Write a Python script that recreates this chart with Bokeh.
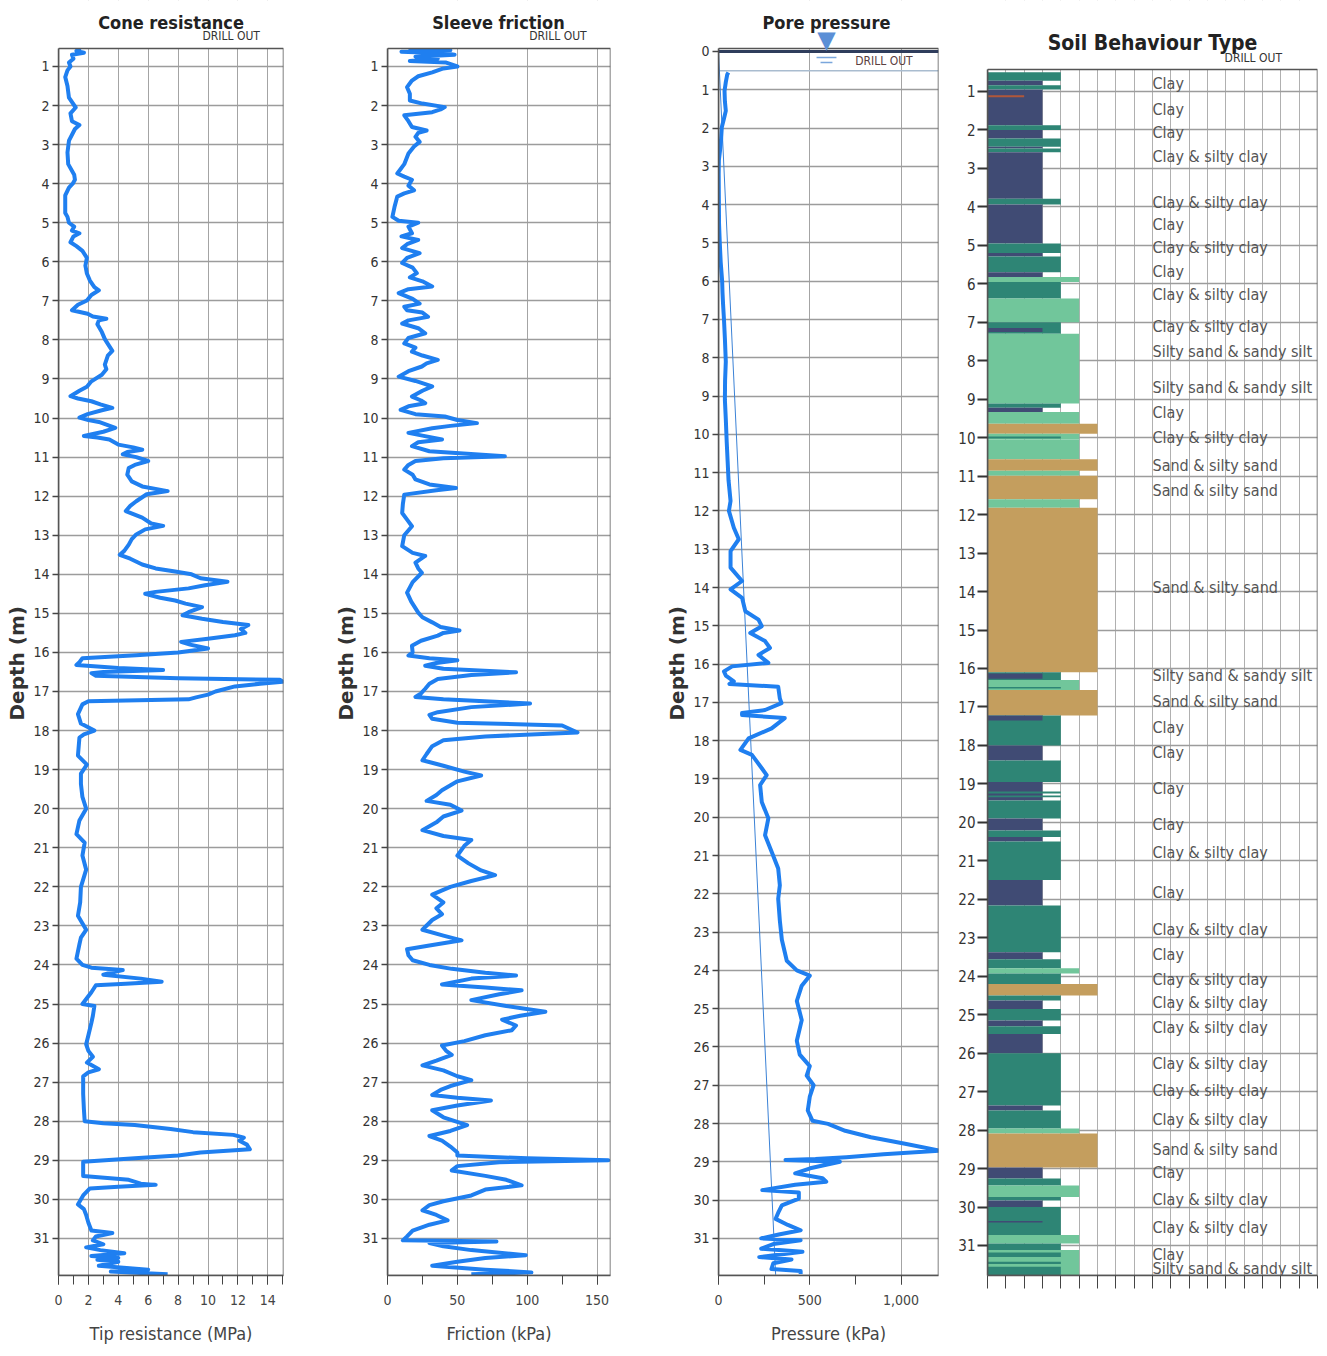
import math
from bokeh.plotting import figure
from bokeh.models import (Range1d, SingleIntervalTicker, FixedTicker, Label, Title,
                          NumeralTickFormatter, CustomJSTickFormatter)
from bokeh.layouts import row
from bokeh.embed import file_html
from bokeh.resources import INLINE

# ---------------- data ----------------
qc_points = [(0.55,1.5),(0.6,1.2),(0.65,1.7),(0.7,0.9),(0.8,1.0),(0.9,0.7),(1.0,0.8),(1.1,0.6),(1.27,0.45),(1.5,0.6),
 (1.8,0.7),(2.05,1.15),(2.2,0.8),(2.4,0.9),(2.5,1.4),(2.6,1.1),(2.9,0.7),(3.2,0.6),(3.5,0.65),(3.77,1.05),(3.9,1.1),
 (4.0,0.95),(4.1,0.7),(4.3,0.45),(4.75,0.45),(4.85,0.6),(5.0,0.7),(5.1,1.05),(5.2,0.9),(5.27,1.4),(5.35,1.0),(5.5,0.8),
 (5.6,1.2),(5.72,1.6),(5.9,1.9),(6.1,1.8),(6.3,1.9),(6.48,2.1),(6.65,2.4),(6.73,2.7),(6.85,2.2),(6.99,1.9),(7.1,1.3),
 (7.24,0.9),(7.33,1.95),(7.4,2.3),(7.46,3.2),(7.5,2.7),(7.6,2.6),(7.8,2.9),(7.98,3.1),(8.1,3.3),(8.28,3.6),(8.4,3.3),
 (8.63,3.1),(8.75,3.2),(8.89,2.9),(9.06,2.2),(9.2,1.9),(9.3,1.4),(9.44,0.8),(9.5,1.3),(9.57,2.2),(9.65,2.8),(9.74,3.6),
 (9.8,2.9),(9.9,1.95),(9.99,1.4),(10.05,2.0),(10.1,2.7),(10.25,3.8),(10.35,3.0),(10.46,1.7),(10.5,2.6),(10.55,3.4),
 (10.68,4.0),(10.75,5.0),(10.81,5.6),(10.87,4.6),(10.93,4.3),(11.0,5.2),(11.1,6.0),(11.2,5.1),(11.28,4.7),(11.45,4.6),
 (11.62,4.9),(11.75,5.6),(11.87,7.3),(11.95,5.9),(12.13,5.2),(12.25,4.8),(12.38,4.5),(12.55,5.6),(12.7,6.2),(12.76,7.0),
 (12.85,5.8),(12.98,5.2),(13.1,4.9),(13.24,4.7),(13.4,4.4),(13.5,4.1),(13.6,4.8),(13.75,5.6),(13.85,6.5),(13.93,7.8),
 (14.0,8.9),(14.1,9.5),(14.19,11.3),(14.28,9.8),(14.36,8.7),(14.45,6.5),(14.5,5.8),(14.6,6.8),(14.67,7.8),(14.75,8.5),
 (14.84,9.6),(14.97,8.7),(15.05,8.3),(15.14,9.6),(15.22,11.0),(15.3,12.7),(15.4,12.2),(15.5,12.5),(15.56,11.8),
 (15.65,10.0),(15.73,8.2),(15.8,8.8),(15.9,10.0),(16.0,8.0),(16.07,5.2),(16.15,1.6),(16.25,1.4),(16.32,1.2),(16.4,4.0),
 (16.45,7.0),(16.5,3.0),(16.53,2.2),(16.6,2.5),(16.66,8.0),(16.7,14.8),(16.75,15.0),(16.8,13.5),(16.87,11.8),(17.0,10.5),
 (17.08,10.0),(17.15,9.2),(17.2,8.7),(17.25,2.0),(17.33,1.6),(17.58,1.3),(17.82,1.5),(18.0,2.4),(18.1,1.7),(18.18,1.4),
 (18.64,1.3),(18.87,1.9),(19.1,1.5),(19.37,1.5),(19.7,1.6),(20.0,1.85),(20.3,1.4),(20.65,1.2),(20.87,1.75),(21.2,1.6),
 (21.56,1.85),(22.0,1.5),(22.4,1.45),(22.74,1.3),(23.1,1.85),(23.3,1.5),(23.47,1.4),(23.84,1.2),(24.0,1.6),(24.07,2.2),
 (24.13,4.3),(24.2,3.5),(24.25,3.0),(24.35,5.5),(24.43,6.9),(24.48,4.5),(24.52,2.5),(24.7,2.2),(25.0,1.6),(25.05,2.4),
 (25.3,2.3),(25.48,2.2),(25.8,2.0),(26.03,1.85),(26.2,2.0),(26.35,2.3),(26.5,1.9),(26.67,2.7),(26.75,2.0),(26.85,1.65),
 (27.3,1.65),(27.7,1.7),(28.0,1.75),(28.05,3.0),(28.1,5.1),(28.2,7.5),(28.28,9.0),(28.35,11.7),(28.42,12.4),(28.5,12.1),
 (28.6,12.6),(28.72,12.8),(28.8,9.5),(28.88,8.0),(28.95,5.1),(29.04,1.65),(29.4,1.65),(29.5,4.7),(29.6,5.5),(29.63,6.5),
 (29.68,4.0),(29.72,2.1),(29.9,1.65),(30.13,1.3),(30.25,1.7),(30.4,1.85),(30.6,2.0),(30.8,2.2),(30.86,3.6),(30.95,2.5),
 (31.05,2.3),(31.15,3.0),(31.23,1.85),(31.3,2.8),(31.38,4.4),(31.45,2.2),(31.5,4.0),(31.55,2.6),(31.6,4.0),(31.7,2.7),
 (31.8,6.0),(31.85,3.5),(31.92,7.3)]

fs_points = [(0.55,15),(0.58,45),(0.62,10),(0.66,40),(0.7,48),(0.75,20),(0.8,36),(0.86,16),(0.9,42),(1.0,50),(1.05,40),
 (1.15,32),(1.25,22),(1.36,17.5),(1.53,14),(1.7,16),(1.87,16),(1.95,25),(2.04,41),(2.1,38),(2.17,32),(2.25,12),(2.4,15),
 (2.55,17.5),(2.64,28),(2.7,22),(2.8,20),(2.93,23),(3.05,19),(3.23,15),(3.5,12),(3.74,7),(3.82,12),(3.9,17.5),(4.05,15),
 (4.17,19),(4.25,12),(4.33,7),(4.6,5),(4.85,3.5),(4.95,8),(5.0,22),(5.1,15),(5.27,17.5),(5.35,10),(5.44,22),(5.55,14),
 (5.65,10.5),(5.78,23),(5.9,14),(6.03,10.5),(6.15,18),(6.29,21),(6.4,16),(6.5,25),(6.63,32),(6.7,15),(6.8,8),(6.95,18),
 (7.07,23),(7.15,12),(7.24,14),(7.3,25),(7.41,29),(7.5,15),(7.58,10.5),(7.7,22),(7.83,27),(7.95,15),(8.09,12),(8.2,20),
 (8.3,17.5),(8.4,25),(8.51,36),(8.6,28),(8.68,24.6),(8.8,15),(8.94,8),(9.05,20),(9.19,32),(9.3,25),(9.45,17.5),(9.55,24),
 (9.62,27),(9.7,15),(9.79,9.4),(9.9,20),(9.96,41),(10.05,50),(10.13,64),(10.2,45),(10.26,32),(10.38,15),(10.45,25),
 (10.55,39),(10.62,22),(10.72,17.5),(10.85,30),(10.98,84),(11.03,40),(11.1,20),(11.2,15),(11.32,12),(11.45,18),(11.57,20),
 (11.7,30),(11.79,49),(11.85,35),(11.96,12),(12.2,11),(12.43,10.5),(12.6,14),(12.77,17.5),(13.0,12),(13.28,10.5),
 (13.45,18),(13.53,27),(13.7,20),(13.85,22),(13.96,24.6),(14.2,18),(14.47,14),(14.7,17),(14.98,22),(15.1,25),(15.23,32),
 (15.35,38),(15.44,51.5),(15.5,40),(15.57,36),(15.7,24),(15.83,17.5),(16.0,18),(16.08,15),(16.15,30),(16.2,50),(16.27,35),
 (16.34,27),(16.42,40),(16.51,92),(16.58,60),(16.68,36),(16.8,30),(16.93,27),(17.05,24),(17.14,20),(17.2,40),(17.31,102),
 (17.4,60),(17.53,36),(17.6,30),(17.7,32),(17.8,50),(17.87,125),(18.05,136),(18.15,70),(18.25,40),(18.4,32),(18.6,28),
 (18.76,25),(18.9,40),(19.05,55),(19.15,67),(19.3,50),(19.53,39),(19.65,35),(19.8,28),(19.9,45),(20.05,53),(20.2,40),
 (20.35,35),(20.55,25),(20.7,40),(20.8,60),(20.95,55),(21.2,50),(21.4,58),(21.58,67),(21.7,77),(21.85,60),(22.0,45),
 (22.2,32),(22.4,40),(22.55,35),(22.7,39),(22.85,32),(23.1,25),(23.25,40),(23.37,53),(23.5,30),(23.6,14),(23.75,15),
 (23.88,18),(24.0,30),(24.1,46),(24.2,70),(24.27,92),(24.35,60),(24.5,39),(24.58,70),(24.65,96),(24.75,80),(24.9,60),
 (25.05,85),(25.2,113),(25.3,95),(25.4,82),(25.55,92),(25.67,89),(25.8,70),(25.95,55),(26.06,39),(26.2,42),(26.3,46),
 (26.45,35),(26.57,25),(26.7,40),(26.85,50),(26.95,60),(27.1,45),(27.2,38),(27.33,32),(27.4,50),(27.47,74),(27.6,50),
 (27.72,32),(27.9,40),(28.1,57),(28.25,45),(28.38,30),(28.5,39),(28.65,45),(28.8,50),(28.88,50),(28.95,100),(29.0,158),
 (29.05,80),(29.15,50),(29.26,46),(29.4,70),(29.5,85),(29.64,96),(29.75,70),(29.9,60),(30.05,40),(30.15,30),(30.28,25),
 (30.4,35),(30.54,43),(30.65,30),(30.8,18),(30.95,14),(31.05,11),(31.08,78),(31.12,30),(31.2,40),(31.3,60),(31.43,99),
 (31.5,70),(31.6,50),(31.7,32),(31.8,70),(31.87,103),(31.92,60)]

u2_points = [(0.55,54),(0.6,48),(0.8,40),(1.03,33),(1.3,35),(1.55,40),(1.75,30),(1.98,18),(2.3,14),(2.6,8),(2.84,2),
 (3.2,1),(3.87,2),(4.5,3),(5.0,7),(5.5,12),(6.0,20),(6.3,22),(6.6,25),(7.0,30),(7.5,35),(8.1,40),(8.6,36),(9.1,35),
 (9.6,40),(10.2,45),(10.7,50),(11.2,55),(11.74,66),(12.0,57),(12.44,84),(12.74,111),(13.05,66),(13.48,66),(13.83,129),
 (14.05,66),(14.27,129),(14.62,147),(14.84,219),(15.01,237),(15.19,174),(15.4,255),(15.58,282),(15.76,219),(15.97,273),
 (16.06,75),(16.19,30),(16.3,40),(16.45,84),(16.52,60),(16.59,327),(16.9,336),(17.02,345),(17.2,255),(17.28,129),
 (17.33,129),(17.41,363),(17.68,291),(17.94,165),(18.24,120),(18.37,183),(18.72,237),(18.9,264),(19.16,228),(19.6,237),
 (20.03,273),(20.47,255),(20.9,291),(21.34,327),(21.78,336),(22.13,327),(22.7,336),(23.2,347),(23.75,374),(24.0,429),
 (24.14,500),(24.4,456),(24.8,429),(25.3,456),(25.84,429),(26.2,445),(26.5,500),(26.75,483),(27.0,521),(27.3,500),
 (27.66,489),(27.93,515),(28.01,600),(28.19,694),(28.36,835),(28.53,1022),(28.71,1213),(28.8,904),(28.88,700),
 (28.93,531),(28.95,367),(29.0,665),(29.17,502),(29.3,420),(29.43,570),(29.52,590),(29.6,420),(29.74,240),(29.8,440),
 (29.96,440),(30.14,347),(30.3,330),(30.49,313),(30.65,380),(30.79,450),(30.9,330),(31.0,234),(31.05,450),(31.15,300),
 (31.27,234),(31.35,460),(31.49,223),(31.55,400),(31.65,300),(31.8,290),(31.85,450),(31.93,450)]

hydro_depth = [0.0, 31.95]
hydro_u = [0.0, 313.0]
drill_out_depth = 0.5
water_level_depth = 0.0

# SBT layers: (top, bottom, zone)
sbt_layers = [(0.50,0.72,4),(0.72,0.84,3),(0.84,0.95,4),(0.95,1.88,3),(1.10,1.15,2),(1.88,2.0,4),(2.0,2.22,3),
 (2.22,2.44,4),(2.44,2.48,3),(2.48,2.58,4),(2.58,3.79,3),(3.79,3.94,4),(3.94,4.95,3),(4.95,5.2,4),(5.2,5.29,3),
 (5.29,5.7,4),(5.7,5.82,3),(5.82,5.95,5),(5.95,6.38,4),(6.38,7.0,5),(7.0,7.3,4),(7.15,7.25,3),(7.3,9.11,5),
 (9.11,9.22,4),(9.22,9.33,3),(9.33,9.64,5),(9.64,9.9,6),(9.9,10.05,5),(9.97,10.02,4),(10.05,10.56,5),(10.56,10.86,6),
 (10.86,10.99,5),(10.99,11.6,6),(11.6,11.82,5),(11.82,16.1,6),(16.1,16.3,4),(16.13,16.27,3),(16.3,16.56,5),
 (16.48,16.52,4),(16.56,17.22,6),(17.22,17.6,4),(17.22,17.35,3),(17.6,18.0,4),(18.0,18.39,3),(18.39,18.95,4),
 (18.95,19.43,3),(19.2,19.25,4),(19.3,19.35,4),(19.43,19.9,4),(19.9,20.21,3),(20.21,20.38,4),(20.38,20.5,3),
 (20.5,21.5,4),(21.5,22.16,3),(22.16,23.38,4),(23.38,23.56,3),(23.56,23.79,4),(23.79,23.93,5),(23.93,24.2,4),
 (24.2,24.5,6),(24.5,24.63,4),(24.63,24.85,3),(24.85,25.15,4),(25.15,25.3,3),(25.3,25.5,4),(25.5,26.0,3),
 (26.0,27.36,4),(27.36,27.49,3),(27.49,27.96,4),(27.96,28.09,5),(28.09,28.97,6),(28.97,29.26,3),(29.26,29.44,4),
 (29.44,29.74,5),(29.74,29.83,4),(29.83,30.0,3),(30.0,30.73,4),(30.36,30.4,3),(30.73,30.95,5),(30.95,31.12,4),
 (31.12,31.8,5),(31.18,31.3,4),(31.42,31.48,4),(31.55,31.8,4)]

sbt_label_depth = [0.79,1.47,2.07,2.69,3.89,4.46,5.06,5.68,6.28,7.11,7.76,8.69,9.34,9.99,10.72,11.37,13.89,16.18,
 16.86,17.53,18.18,19.12,20.05,20.78,21.82,22.78,23.43,24.08,24.68,25.33,26.27,26.97,27.72,28.5,29.1,29.8,30.53,31.24,31.6]
sbt_label_text = ["Clay","Clay","Clay","Clay & silty clay","Clay & silty clay","Clay","Clay & silty clay","Clay",
 "Clay & silty clay","Clay & silty clay","Silty sand & sandy silt","Silty sand & sandy silt","Clay","Clay & silty clay",
 "Sand & silty sand","Sand & silty sand","Sand & silty sand","Silty sand & sandy silt","Sand & silty sand","Clay","Clay",
 "Clay","Clay","Clay & silty clay","Clay","Clay & silty clay","Clay","Clay & silty clay","Clay & silty clay",
 "Clay & silty clay","Clay & silty clay","Clay & silty clay","Clay & silty clay","Sand & silty sand","Clay",
 "Clay & silty clay","Clay & silty clay","Clay","Silty sand & sandy silt"]

depth_ticks = list(range(1, 32))
pore_depth_ticks = list(range(0, 32))

# ---------------- style ----------------
FONT = "DejaVu Sans Condensed"
BLUE = "#1f7ff0"
ZONE_COLORS = {2: "#b0573a", 3: "#404b74", 4: "#2e8575", 5: "#71c69b", 6: "#c49e5e"}
H = 1350
BOTTOM = 75


def make_fig(width, xr, y_bottom, y_top, box_top, left, right, ticks, depth_label=False):
    p = figure(width=width, height=H, x_range=Range1d(*xr), y_range=Range1d(y_bottom, y_top),
               output_backend="svg", toolbar_location=None, tools="",
               min_border_left=left, min_border_right=right,
               min_border_top=0, min_border_bottom=BOTTOM)
    p.title.visible = False
    p.outline_line_color = None
    p.background_fill_color = "white"
    p.border_fill_color = "white"
    yax = p.yaxis[0]
    yax.ticker = FixedTicker(ticks=ticks)
    yax.bounds = (box_top, y_bottom)
    yax.major_tick_out = 6
    yax.major_tick_in = 0
    yax.minor_tick_out = 0
    yax.minor_tick_in = 0
    yax.major_tick_line_color = "#444444"
    yax.major_tick_line_width = 1.5
    yax.axis_line_color = "#555555"
    yax.axis_line_width = 1.5
    yax.major_label_standoff = 3
    yax.major_label_text_font = FONT
    yax.major_label_text_font_size = "14px"
    yax.major_label_text_color = "#333333"
    if depth_label:
        p.add_layout(Title(text="Depth (m)", align="left", offset=555, standoff=4,
                           text_font="DejaVu Sans", text_font_size="20px", text_font_style="bold",
                           text_color="#333333"), "left")
    xax = p.xaxis[0]
    xax.major_tick_out = 9
    xax.major_tick_in = 0
    xax.minor_tick_out = 9
    xax.minor_tick_in = 0
    xax.major_tick_line_color = "#444444"
    xax.minor_tick_line_color = "#444444"
    xax.axis_line_color = "#555555"
    xax.axis_line_width = 1.5
    xax.major_label_standoff = 10
    xax.major_label_text_font = FONT
    xax.major_label_text_font_size = "14px"
    xax.major_label_text_color = "#444444"
    xax.axis_label_text_font = FONT
    xax.axis_label_text_font_size = "18px"
    xax.axis_label_text_font_style = "normal"
    xax.axis_label_text_color = "#444444"
    xax.axis_label_standoff = 15
    p.ygrid.grid_line_color = "#9c9c9c"
    p.ygrid.grid_line_width = 1.6
    p.xgrid.grid_line_color = "#a4a4a4"
    p.xgrid.grid_line_width = 1
    return p


def finish_box(p, xr, y_top, box_top, y_bottom):
    # blank the strip above the plotting box, then draw the box outline
    p.quad(left=[xr[0]], right=[xr[1]], top=[y_top], bottom=[box_top],
           fill_color="white", line_color=None)
    p.quad(left=[xr[0]], right=[xr[1]], top=[box_top], bottom=[y_bottom],
           fill_color=None, line_color="#555555", line_width=1.5)


def add_text(p, x, y, text, size, bold=False, color="#222222", align="center", font=FONT):
    p.add_layout(Label(x=x, y=y, text=text, text_font=font, text_font_size=size,
                       text_font_style="bold" if bold else "normal", text_color=color,
                       text_align=align, text_baseline="middle"))


# ---------- Cone resistance ----------
xr1 = (0, 15.05)
p1 = make_fig(329, xr1, 31.95, -0.689, 0.54, 56, 46, depth_ticks, True)
p1.xaxis[0].ticker = SingleIntervalTicker(interval=2, num_minor_ticks=2)
p1.xaxis[0].axis_label = "Tip resistance (MPa)"
p1.line([v for _, v in qc_points], [d for d, _ in qc_points], line_color=BLUE, line_width=4,
        line_join="round")
finish_box(p1, xr1, -0.689, 0.54, 31.95)
add_text(p1, 7.53, -0.13, "Cone resistance", "18px", bold=True)
add_text(p1, 11.55, 0.21, "DRILL OUT", "12px", color="#333333")

# ---------- Sleeve friction ----------
xr2 = (0, 159.6)
p2 = make_fig(331, xr2, 31.95, -0.689, 0.54, 56, 50, depth_ticks, True)
p2.xaxis[0].ticker = SingleIntervalTicker(interval=50, num_minor_ticks=2)
p2.xaxis[0].axis_label = "Friction (kPa)"
p2.line([v for _, v in fs_points], [d for d, _ in fs_points], line_color=BLUE, line_width=4,
        line_join="round")
finish_box(p2, xr2, -0.689, 0.54, 31.95)
add_text(p2, 79.4, -0.13, "Sleeve friction", "18px", bold=True)
add_text(p2, 122, 0.21, "DRILL OUT", "12px", color="#333333")

# ---------- Pore pressure ----------
xr3 = (0, 1205)
p3 = make_fig(285, xr3, 31.97, -1.332, -0.078, 56, 7, pore_depth_ticks, True)
p3.xaxis[0].ticker = SingleIntervalTicker(interval=500, num_minor_ticks=2)
p3.xaxis[0].formatter = NumeralTickFormatter(format="0,0")
p3.xaxis[0].axis_label = "Pressure (kPa)"
p3.line([0, 1205], [drill_out_depth, drill_out_depth], line_color="#a9bccf", line_width=1.5)
p3.line(hydro_u, hydro_depth, line_color="#3b82d6", line_width=1)
p3.line([v for _, v in u2_points], [d for d, _ in u2_points], line_color=BLUE, line_width=4,
        line_join="round")
p3.line([537, 646], [0.16, 0.16], line_color="#7aa6dc", line_width=1.5)
p3.line([559, 624], [0.29, 0.29], line_color="#7aa6dc", line_width=1.5)
finish_box(p3, xr3, -1.332, -0.078, 31.97)
p3.line([0, 1205], [water_level_depth, water_level_depth], line_color="#2f3d5c", line_width=3)
add_text(p3, 591, -0.76, "Pore pressure", "18px", bold=True)
add_text(p3, 591, -0.30, "\u25BC", "24px", color="#5b8fd6", font="DejaVu Sans")
add_text(p3, 906, 0.24, "DRILL OUT", "12px", color="#5a4040")

# ---------- Soil Behaviour Type ----------
xr4 = (0, 18)
p4 = make_fig(375, xr4, 31.78, -1.365, 0.428, 42, 3, depth_ticks)
p4.xaxis[0].ticker = SingleIntervalTicker(interval=1, num_minor_ticks=0)
p4.xaxis[0].major_tick_out = 13
p4.xaxis[0].formatter = CustomJSTickFormatter(code="return ''")
p4.yaxis[0].major_tick_out = 10
p4.yaxis[0].major_tick_line_color = "#333333"
p4.yaxis[0].major_tick_line_width = 2
p4.yaxis[0].major_label_standoff = 2
p4.yaxis[0].major_label_text_font_size = "15px"
p4.xgrid.grid_line_color = "#b0b0b0"
p4.quad(left=[0] * len(sbt_layers), right=[z for _, _, z in sbt_layers],
        top=[t for t, _, _ in sbt_layers], bottom=[b for _, b, _ in sbt_layers],
        fill_color=[ZONE_COLORS[z] for _, _, z in sbt_layers], line_color=None)
finish_box(p4, xr4, -1.365, 0.428, 31.78)
for d, t in zip(sbt_label_depth, sbt_label_text):
    add_text(p4, 9.0, d, t, "16px", color="#555555", align="left")
add_text(p4, 9.0, -0.27, "Soil Behaviour Type", "21px", bold=True)
add_text(p4, 14.5, 0.12, "DRILL OUT", "12px", color="#333333")

layout = row(p1, p2, p3, p4)
open("out.html", "w").write(file_html(layout, INLINE))
